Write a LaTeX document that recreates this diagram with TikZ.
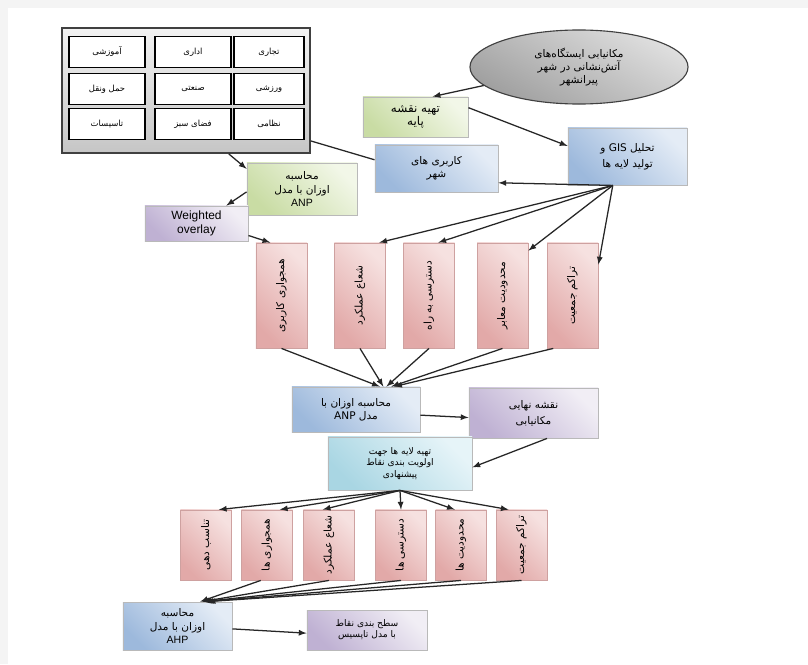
\documentclass[tikz,border=0pt]{standalone}
\usepackage{fontspec}
\usepackage{graphicx}
\setmainfont{Liberation Sans}
\newfontfamily\arabicfont[Script=Arabic]{DejaVu Sans}
\TeXXeTstate=1
\usetikzlibrary{arrows, shapes.geometric}
\newcommand{\prs}[1]{{\arabicfont\beginR #1\endR}}
\newcommand{\vprs}[1]{\rotatebox{90}{\prs{#1}}}
\definecolor{grnA}{HTML}{F2F7E8}
\definecolor{grnB}{HTML}{C9DCA4}
\definecolor{bluA}{HTML}{E4ECF6}
\definecolor{bluB}{HTML}{9DB9DC}
\definecolor{purA}{HTML}{F1EEF5}
\definecolor{purB}{HTML}{BFB1D3}
\definecolor{pnkA}{HTML}{F6E1E0}
\definecolor{pnkB}{HTML}{E2A9A8}
\definecolor{cynA}{HTML}{E6F4F8}
\definecolor{cynB}{HTML}{A9D6E3}

\begin{document}
\begin{tikzpicture}[x=0.025cm, y=-0.025cm, font=\fontsize{7.5}{9.5}\selectfont,
  box/.style={draw=gray!55, rectangle, inner sep=2pt, align=center, line width=0.6pt},
  greenbox/.style={box, top color=grnA, bottom color=grnB, shading angle=-45},
  bluebox/.style={box, top color=bluA, bottom color=bluB, shading angle=-45},
  purplebox/.style={box, top color=purA, bottom color=purB, shading angle=-45},
  cyanbox/.style={box, top color=cynA, bottom color=cynB, shading angle=-45},
  pinkbox/.style={box, draw=pnkB!80!gray, top color=pnkA, bottom color=pnkB, shading angle=-45,
    minimum width=1.275cm},
  cell/.style={draw=black, line width=1.1pt, fill=white, minimum width=1.9cm, minimum height=0.775cm,
    font=\fontsize{6}{7}\selectfont},
  arr/.style={->, >=latex, line width=0.9pt, black!85},
  lnk/.style={line width=0.9pt, black!85}]

% page and margins
\fill[white] (0,0) rectangle (808,664);
\fill[gray!9] (0,0) rectangle (808,8);
\fill[gray!9] (0,0) rectangle (8,664);
\useasboundingbox (0,0) rectangle (808,664);

% land use table
\node[draw=black!75, line width=1.2pt, top color=gray!10, bottom color=gray!45,
  minimum width=6.2cm, minimum height=3.125cm] (grid) at (186,90.5) {};
\node[cell] (c11) at (107,52)  {\prs{آموزشی}};
\node[cell] (c12) at (193,52)  {\prs{اداری}};
\node[cell, minimum width=1.75cm] (c13) at (269,52)  {\prs{تجاری}};
\node[cell] (c21) at (107,89)  {\prs{حمل ونقل}};
\node[cell] (c22) at (193,89)  {\prs{صنعتی}};
\node[cell, minimum width=1.75cm] (c23) at (269,89)  {\prs{ورزشی}};
\node[cell] (c31) at (107,124) {\prs{تاسیسات}};
\node[cell] (c32) at (193,124) {\prs{فضای سبز}};
\node[cell, minimum width=1.75cm] (c33) at (269,124) {\prs{نظامی}};

% top of chart
\node[ellipse, draw=black!75, line width=0.8pt, top color=gray!25, bottom color=gray!75,
  shading angle=-30, minimum width=5.45cm, minimum height=1.85cm, inner sep=0pt, align=center]
  (goal) at (579,67) {\prs{مکانیابی ایستگاه‌های}\\ \prs{آتش‌نشانی در شهر}\\ \prs{پیرانشهر}};
\node[greenbox, minimum width=2.625cm, minimum height=1cm] (basemap) at (415.5,117)
  {\fontsize{8.5}{11}\selectfont\prs{تهیه نقشه}\\ \fontsize{8.5}{11}\selectfont\prs{پایه}};
\node[bluebox, minimum width=2.975cm, minimum height=1.425cm] (gis) at (627.5,156.5)
  {\prs{تحلیل \beginL GIS\endL{} و}\\[2pt] \prs{تولید لایه ها}};
\node[bluebox, minimum width=3.075cm, minimum height=1.175cm] (landuse) at (436.5,168.5)
  {\prs{کاربری های}\\ \prs{شهر}};
\node[greenbox, minimum width=2.75cm, minimum height=1.3cm] (anpa) at (302,189)
  {\prs{محاسبه}\\ \prs{اوزان با مدل}\\ ANP};
\node[purplebox, minimum width=2.575cm, minimum height=0.875cm] (overlay) at (196.5,223.5)
  {\fontsize{8.5}{9.5}\selectfont Weighted\\ \fontsize{8.5}{9.5}\selectfont overlay};

% first criteria
\node[pinkbox, minimum height=2.625cm] (ta) at (281.5,295.5) {\vprs{همجواری کاربری}};
\node[pinkbox, minimum height=2.625cm] (tb) at (360,295.5)   {\vprs{شعاع عملکرد}};
\node[pinkbox, minimum height=2.625cm] (tc) at (429,295.5)   {\vprs{دسترسی به راه}};
\node[pinkbox, minimum height=2.625cm] (td) at (502.5,295.5) {\vprs{محدودیت معابر}};
\node[pinkbox, minimum height=2.625cm] (te) at (572.5,295.5) {\vprs{تراکم جمعیت}};

% middle
\node[bluebox, minimum width=3.2cm, minimum height=1.125cm] (anpb) at (356,409.5)
  {\prs{محاسبه اوزان با}\\ \prs{مدل \beginL ANP\endL}};
\node[purplebox, minimum width=3.225cm, minimum height=1.25cm] (final) at (533.5,413)
  {\prs{نقشه نهایی}\\[2pt] \prs{مکانیابی}};
\node[cyanbox, minimum width=3.6cm, minimum height=1.325cm, font=\fontsize{6.5}{8}\selectfont]
  (layers) at (400,463.5) {\prs{تهیه لایه ها جهت}\\ \prs{اولویت بندی نقاط}\\ \prs{پیشنهادی}};

% second criteria
\node[pinkbox, minimum height=1.75cm] (ba) at (206,545)   {\vprs{تناسب دهی}};
\node[pinkbox, minimum height=1.75cm] (bb) at (267,545)   {\vprs{همجواری ها}};
\node[pinkbox, minimum height=1.75cm] (bc) at (329,545)   {\vprs{شعاع عملکرد}};
\node[pinkbox, minimum height=1.75cm] (bd) at (401,545)   {\vprs{دسترسی ها}};
\node[pinkbox, minimum height=1.75cm] (be) at (461,545)   {\vprs{محدودیت ها}};
\node[pinkbox, minimum height=1.75cm] (bf) at (521.5,545) {\vprs{تراکم جمعیت}};

% bottom
\node[bluebox, minimum width=2.725cm, minimum height=1.2cm] (ahp) at (177.5,626)
  {\prs{محاسبه}\\ \prs{اوزان با مدل}\\ AHP};
\node[purplebox, minimum width=3cm, minimum height=1cm, font=\fontsize{6.5}{8}\selectfont]
  (topsis) at (367,630) {\prs{سطح بندی نقاط}\\ \prs{با مدل تاپسیس}};

% connectors
\draw[arr] (goal.191) -- (basemap.50);
\draw[arr] (basemap.10) -- (gis.170);
\draw[arr] (gis.-117) -- (landuse.-13);
\draw[arr] (gis.-117) -- (tb.70);
\draw[arr] (gis.-117) -- (tc.80);
\draw[arr] (gis.-117) -- (td.60);
\draw[arr] (gis.-117) -- (te.50);
\draw[lnk] (grid.-22) -- (landuse.172);
\draw[arr] (grid.-56) -- (anpa.160);
\draw[arr] (anpa.183) -- (overlay.31);
\draw[arr] (overlay.-13) -- (ta.102);
\draw[arr] (ta.south) -- (anpb.44);
\draw[arr] (tb.south) -- (anpb.40);
\draw[arr] (tc.south) -- (anpb.37);
\draw[arr] (td.south) -- (anpb.33);
\draw[arr] (te.-110) -- (anpb.31);
\draw[arr] (anpb.-5) -- (final.184);
\draw[arr] (final.-62) -- (layers.-3);
\draw[arr] (layers.south) -- (ba.70);
\draw[arr] (layers.south) -- (bb.70);
\draw[arr] (layers.south) -- (bc.100);
\draw[arr] (layers.south) -- (bd.north);
\draw[arr] (layers.south) -- (be.100);
\draw[arr] (layers.south) -- (bf.110);
\draw[arr] (bb.-100) -- (ahp.47);
\draw[arr] (bc.south) -- (ahp.45);
\draw[arr] (bd.south) -- (ahp.43);
\draw[arr] (be.south) -- (ahp.41);
\draw[arr] (bf.south) -- (ahp.39);
\draw[arr] (ahp.-3) -- (topsis.183);
\end{tikzpicture}
\end{document}
